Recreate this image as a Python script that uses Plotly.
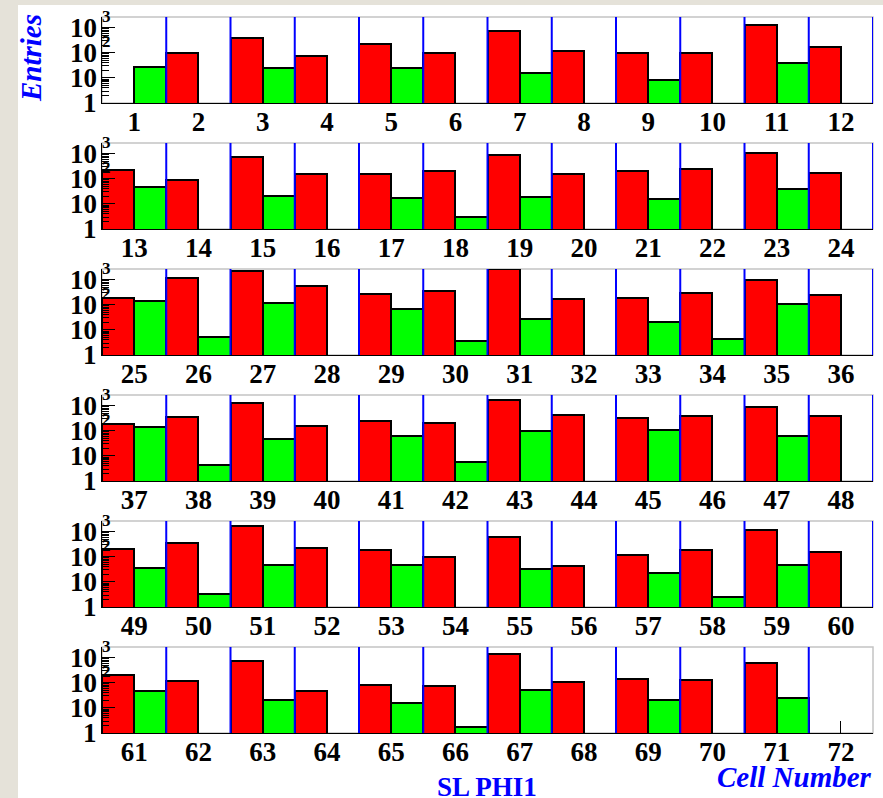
import math
import plotly.graph_objects as go

# ---------------- data ----------------
cells = list(range(1, 73))
red = [0, 100, 385, 71, 215, 94, 710, 112, 100, 100, 1240, 167,
       215, 91, 760, 149, 149, 196, 910, 149, 209, 244, 1070, 168,
       185, 1170, 2230, 540, 268, 354, 2600, 164, 190, 285, 1000, 244,
       185, 354, 1290, 154, 244, 196, 1690, 437, 310, 375, 860, 375,
       209, 354, 1690, 223, 178, 97, 613, 44, 120, 185, 1170, 154,
       196, 120, 710, 49, 81, 71, 1350, 107, 140, 128, 630, 0]
green = [28, 0, 24, 0, 24, 0, 16, 0, 8.3, 0, 40, 0,
         46, 0, 21, 0, 17, 3.0, 18, 0, 16, 0, 40, 0,
         144, 5.4, 117, 0, 69, 3.7, 27, 0, 21, 4.5, 107, 0,
         136, 4.4, 45, 0, 61, 5.6, 94, 0, 107, 0, 61, 0,
         35, 3.4, 46, 0, 46, 0, 32, 0, 22, 2.6, 48, 0,
         46, 0, 20, 0, 16, 1.7, 52, 0, 20, 0, 24, 0]
y_tick_vals = [1, 10, 100, 1000]
y_tick_base = ["1", "10", "10", "10"]
y_tick_sup = ["", "", "2", "3"]
minor_vals = [m * d for d in (1, 10, 100) for m in range(2, 10)]
n_rows = 6
per_row = 12

# ---------------- layout geometry ----------------
W, H = 883, 798
ML, MR, MT, MB = 102, 10, 17, 65
PW, PH = W - ML - MR, H - MT - MB
ROW_H, ROW_STEP = 86, 126

RED = "#ff0000"
GREEN = "#00ff00"
BLUE = "#0000ff"
FONT = "Liberation Serif"
TICK_SIZE = 27

fig = go.Figure()
shapes = []
annotations = []

for r in range(n_rows):
    n = "" if r == 0 else str(r + 1)
    xa, ya = "x" + n, "y" + n
    top_px = MT + ROW_STEP * r
    y1 = 1 - (top_px - MT) / PH
    y0 = 1 - (top_px + ROW_H - MT) / PH
    idx = list(range(r * per_row, (r + 1) * per_row))
    pos = [k + 1 for k in range(per_row)]
    rv = [red[i] if red[i] > 0 else None for i in idx]
    gv = [green[i] if green[i] > 0 else None for i in idx]
    fig.add_trace(go.Bar(x=[p - 0.25 for p in pos], y=rv, width=0.5,
                         marker=dict(color=RED, line=dict(color="black", width=2)),
                         xaxis=xa, yaxis=ya, showlegend=False))
    fig.add_trace(go.Bar(x=[p + 0.25 for p in pos], y=gv, width=0.5,
                         marker=dict(color=GREEN, line=dict(color="black", width=2)),
                         xaxis=xa, yaxis=ya, showlegend=False))

    fig.layout["xaxis" + n] = dict(
        domain=[0, 1], anchor=ya, range=[0.5, per_row + 0.5],
        tickvals=pos, ticktext=[str(cells[i]) for i in idx],
        ticks="inside", ticklen=12, tickcolor="black", tickwidth=1,
        ticklabelstandoff=-5,
        showline=True, linecolor="black", linewidth=1, showgrid=False,
        zeroline=False,
        tickfont=dict(family=FONT, size=TICK_SIZE, weight="bold", color="black"))
    fig.layout["yaxis" + n] = dict(
        domain=[y0, y1], anchor=xa, type="log", range=[0, 3.42],
        tickvals=y_tick_vals, showticklabels=False,
        ticks="inside", ticklen=13, tickcolor="black", tickwidth=1,
        minor=dict(tickvals=minor_vals, ticks="inside", ticklen=7,
                   tickcolor="black", tickwidth=1, showgrid=False),
        showline=True, linecolor="black", linewidth=1, showgrid=False,
        zeroline=False)

    # frame (grey top / right)
    shapes.append(dict(type="rect", xref=xa + " domain", yref=ya + " domain",
                       x0=0, x1=1, y0=0, y1=1, layer="below",
                       line=dict(color="#c4c4c4", width=1.5)))
    # blue separators
    for k, i in zip(pos, idx):
        if red[i] > 0 or green[i] > 0:
            shapes.append(dict(type="line", xref=xa, yref=ya + " domain",
                               x0=k + 0.5, x1=k + 0.5, y0=0, y1=1,
                               line=dict(color=BLUE, width=2)))
    # y tick labels (ROOT style)
    for v, b, s in zip(y_tick_vals, y_tick_base, y_tick_sup):
        annotations.append(dict(xref=xa + " domain", yref=ya, x=0,
                                y=math.log10(v), text=b, showarrow=False,
                                xanchor="right", yanchor="middle", xshift=-3,
                                font=dict(family=FONT, size=TICK_SIZE, weight="bold",
                                          color="black")))
        if s:
            annotations.append(dict(xref=xa + " domain", yref=ya, x=0,
                                    y=math.log10(v), text=s, showarrow=False,
                                    xanchor="left", yanchor="middle", xshift=-2,
                                    yshift=11,
                                    font=dict(family=FONT, size=17,
                                              weight="bold", color="black")))

def px_x(p):
    return (p - ML) / PW

def px_y(p):
    return 1 - (p - MT) / PH

# outer beige strips (window frame)
BEIGE = "#e5e2d9"
shapes.append(dict(type="rect", xref="paper", yref="paper", layer="below",
                   x0=px_x(0), x1=px_x(18), y0=px_y(H), y1=px_y(0),
                   fillcolor=BEIGE, line=dict(width=0)))
shapes.append(dict(type="rect", xref="paper", yref="paper", layer="below",
                   x0=px_x(0), x1=px_x(W), y0=px_y(5), y1=px_y(0),
                   fillcolor=BEIGE, line=dict(width=0)))

annotations.append(dict(xref="paper", yref="paper", x=px_x(31), y=px_y(58),
                        text="Entries", textangle=-90, showarrow=False,
                        xanchor="center", yanchor="middle",
                        font=dict(family=FONT, size=29, weight="bold",
                                  style="italic", color=BLUE)))
annotations.append(dict(xref="paper", yref="paper", x=px_x(487), y=px_y(787),
                        text="SL PHI1", showarrow=False,
                        xanchor="center", yanchor="middle",
                        font=dict(family=FONT, size=27, weight="bold",
                                  color=BLUE)))
annotations.append(dict(xref="paper", yref="paper", x=px_x(874), y=px_y(777),
                        text="Cell Number", showarrow=False,
                        xanchor="right", yanchor="middle",
                        font=dict(family=FONT, size=29, weight="bold",
                                  style="italic", color=BLUE)))

fig.update_layout(width=W, height=H, margin=dict(l=ML, r=MR, t=MT, b=MB),
                  paper_bgcolor="white", plot_bgcolor="white",
                  barmode="overlay", bargap=0, shapes=shapes,
                  annotations=annotations, showlegend=False)

fig.write_html("out.html", config={"displayModeBar": False},
               post_script="document.body.style.margin='0';"
                           "document.body.style.overflow='hidden';")
